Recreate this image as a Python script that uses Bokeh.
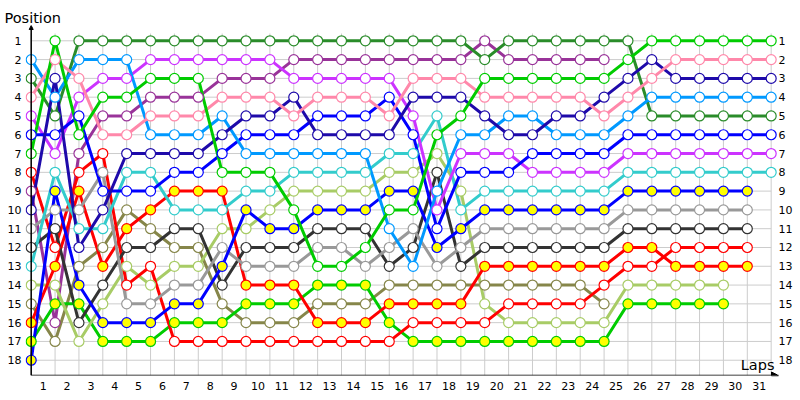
from bokeh.plotting import figure
from bokeh.models import Range1d, FixedTicker, LinearAxis, Label, Arrow, NormalHead
from bokeh.embed import file_html
from bokeh.resources import INLINE

# ---------------- data ----------------
laps = list(range(32))                       # lap 0 = starting grid
lap_labels = [str(i) for i in range(1, 32)]
positions = list(range(1, 19))
pos_labels = [str(i) for i in positions]

dark_green   = [3,5,1,1,1,1,1,1,1,1, 1,1,1,1,1,1,1,1,1,2, 1,1,1,1,1,1,5,5,5,5, 5,5]
green        = [7,1,6,4,4,3,3,3,8,8, 8,10,13,13,12,10,10,6,5,3, 3,3,3,3,3,2,1,1,1,1, 1,1]
light_blue   = [2,4,2,2,2,6,6,6,5,7, 7,7,7,7,7,11,13,9,6,6, 5,5,6,6,6,5,4,4,4,4, 4,4]
pink         = [4,2,3,6,6,5,5,5,4,4, 4,5,4,4,4,5,3,3,3,4, 4,4,4,4,5,4,3,2,2,2, 2,2]
light_purple = [5,7,4,3,3,2,2,2,2,2, 2,3,3,3,3,3,5,10,7,7, 7,8,8,8,8,7,7,7,7,7, 7,7]
dark_purple  = [9,16,7,5,5,4,4,4,3,3, 3,2,2,2,2,2,2,2,2,1, 2,2,2,2,2]
navy         = [10,3,12,10,7,7,7,7,6,5, 5,4,6,6,6,6,4,4,4,5, 6,6,5,5,4,3,2,3,3,3, 3,3]
blue         = [6,6,5,9,9,9,8,8,7,6, 6,6,5,5,5,4,6,11,8,8, 8,7,7,7,7,6,6,6,6,6, 6,6]
blue_yellow  = [18,9,14,16,16,16,15,15,13,10, 11,11,10,10,10,9,9,12,11,10, 10,10,10,10,10,9,9,9,9,9, 9]
cyan         = [13,8,11,11,8,8,10,10,10,9, 9,8,8,8,8,7,7,5,10,9, 9,9,9,9,9,8,8,8,8,8, 8,8]
red_open     = [8,12,8,7,14,13,17,17,17,17, 17,17,17,17,17,17,16,16,16,16, 15,15,15,15,14,13,13,12,12,12, 12]
red_yellow   = [16,13,9,13,11,10,9,9,9,14, 14,14,16,16,16,15,15,15,15,13, 13,13,13,13,13,12,12,13,13,13, 13]
gray         = [11,10,10,8,15,15,14,14,12,13, 13,13,12,12,13,12,11,13,12,11, 11,11,11,11,11,10,10,10,10,10, 10]
dark_gray    = [12,11,16,14,12,12,11,11,14,12, 12,12,11,11,11,13,12,8,13,12, 12,12,12,12,12,11,11,11,11,11, 11]
light_green  = [14,14,17,15,13,14,13,13,11,11, 10,9,9,9,9,8,8,7,9,15, 16,16,16,16,16,14,14,14,14,14]
olive        = [15,17,13,12,10,11,12,12,15,16, 16,16,15,15,15,14,14,14,14,14, 14,14,14,14,15]
green_yellow = [17,15,15,17,17,17,16,16,16,15, 15,15,14,14,14,16,17,17,17,17, 17,17,17,17,17,15,15,15,15,15]

# (positions, line colour, marker fill)
series = [
    (olive,        "#86864a", "white"),
    (dark_purple,  "#993399", "white"),
    (green_yellow, "#00cc00", "#ffff00"),
    (light_green,  "#a8cc66", "white"),
    (red_yellow,   "#ff0000", "#ffff00"),
    (red_open,     "#ff0000", "white"),
    (dark_gray,    "#333333", "white"),
    (gray,         "#999999", "white"),
    (blue_yellow,  "#0000ff", "#ffff00"),
    (cyan,         "#33cccc", "white"),
    (light_purple, "#cc33ff", "white"),
    (blue,         "#0000ff", "white"),
    (dark_green,   "#2a8c2a", "white"),
    (light_blue,   "#0099ff", "white"),
    (navy,         "#1e0aaa", "white"),
    (pink,         "#ff88aa", "white"),
    (green,        "#00cc00", "white"),
]

# ---------------- geometry ----------------
W, H = 800, 400
X0, DX = 30.7, 23.87      # px of lap 0, px per lap
Y0, DY = 40.3, 18.79      # px of position 1, px per position
FL, FR, FT, FB = 25, 777, 25, 375   # frame edges in px

def lx(px):
    return (px - X0) / DX

def py(px):
    return 1 + (px - Y0) / DY

FONT = "DejaVu Sans"

p = figure(width=W, height=H,
           x_range=Range1d(lx(FL), lx(FR)),
           y_range=Range1d(py(FB), py(FT)),
           output_backend="svg", toolbar_location=None,
           x_axis_location=None, y_axis_location=None,
           min_border_left=FL, min_border_right=W - FR,
           min_border_top=FT, min_border_bottom=H - FB,
           outline_line_color=None, background_fill_color="white",
           border_fill_color="white", title="Position")
p.title.align = "left"
p.title.offset = 4 - FL
p.title.standoff = 0
p.title.vertical_align = "bottom"
p.title.text_font = FONT
p.title.text_font_size = "14.5px"
p.title.text_font_style = "normal"
p.title.text_color = "black"
p.xgrid.visible = False
p.ygrid.visible = False

grid_top = py(33)
axis_y = py(FB)

# grid lines
p.segment(x0=[0] * len(positions), x1=[laps[-1]] * len(positions),
          y0=positions, y1=positions, line_color="#cccccc", line_width=1)
p.segment(x0=laps, x1=laps, y0=[grid_top] * len(laps), y1=[axis_y] * len(laps),
          line_color="#cccccc", line_width=1)

# axes lines with arrows
p.add_layout(Arrow(x_start=0, y_start=axis_y, x_end=lx(778), y_end=axis_y,
                   line_color="black", line_width=1.5,
                   end=NormalHead(size=7, fill_color="black", line_color="black")))
p.add_layout(Arrow(x_start=0, y_start=axis_y, x_end=0, y_end=py(FT),
                   line_color="black", line_width=1.5,
                   end=NormalHead(size=4, fill_color="black", line_color="black")))

# series lines then markers
for data, col, fill in series:
    xs = laps[:len(data)]
    p.line(xs, data, line_color=col, line_width=3, line_join="round")
for data, col, fill in series:
    xs = laps[:len(data)]
    p.scatter(xs, data, marker="circle", size=10, fill_color=fill,
              line_color=col, line_width=1.2)

bottom = LinearAxis(ticker=FixedTicker(ticks=[i - 0.5 for i in range(1, 32)]),
                    major_label_overrides={i - 0.5: lap_labels[i - 1] for i in range(1, 32)})
left = LinearAxis(ticker=FixedTicker(ticks=positions),
                  major_label_overrides={v: pos_labels[i] for i, v in enumerate(positions)})
right = LinearAxis(ticker=FixedTicker(ticks=positions),
                   major_label_overrides={v: pos_labels[i] for i, v in enumerate(positions)})
for ax in (bottom, left, right):
    ax.axis_line_color = None
    ax.major_tick_line_color = None
    ax.minor_tick_line_color = None
    ax.major_tick_out = 0
    ax.major_tick_in = 0
    ax.major_label_text_font = FONT
    ax.major_label_text_font_size = "11px"
    ax.major_label_text_color = "black"
bottom.major_label_standoff = 6
left.major_label_standoff = 4
right.major_label_standoff = 1
p.add_layout(bottom, "below")
p.add_layout(left, "left")
p.add_layout(right, "right")

p.add_layout(Label(x=lx(774), y=py(364), text="Laps", text_align="right",
                   text_baseline="middle", text_font=FONT,
                   text_font_size="14.5px", text_color="black"))

open("out.html", "w").write(file_html(p, INLINE))
